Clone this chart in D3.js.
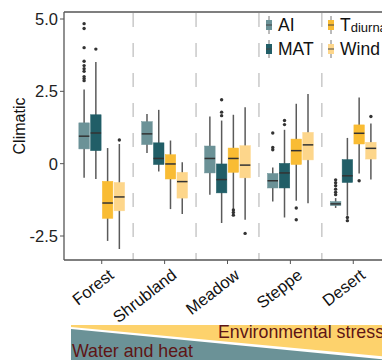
<!DOCTYPE html>
<html><head><meta charset="utf-8">
<script src="https://cdn.jsdelivr.net/npm/d3@7"></script>
<style>body{margin:0;background:#fff;}svg{display:block;font-family:Arial,"Liberation Sans",sans-serif;}</style>
</head><body>
<svg id="c" width="382" height="360"></svg>
<script>
const categories = ["Forest","Shrubland","Meadow","Steppe","Desert"];
const seriesNames = ["AI","MAT","Tdiurnal","Wind"];
const seriesColors = ["#6b9297","#215e67","#f9bc34","#fdd68b"];
const yTicks = [5.0, 2.5, 0, -2.5];
const yTickLabels = ["5.0","2.5","0","-2.5"];
// [lower whisker, q1, median, q3, upper whisker] per category
const aiStats = [[-0.49,0.51,0.95,1.41,2.56],[0.37,0.66,1.03,1.45,1.72],[-1.07,-0.32,0.18,0.61,1.63],[-1.31,-0.84,-0.59,-0.34,-0.13],[-1.53,-1.45,-1.39,-1.31,-1.19]];
const matStats = [[-0.53,0.45,1.06,1.69,3.51],[-0.27,-0.03,0.18,0.72,1.86],[-2.05,-1.01,-0.55,-0.01,1.49],[-1.86,-0.84,-0.32,0.01,1.17],[-1.80,-0.65,-0.42,0.14,0.89]];
const tdiStats = [[-2.67,-1.89,-1.36,-0.61,0.54],[-1.57,-0.53,-0.01,0.31,0.80],[-1.57,-0.30,0.18,0.54,1.69],[-1.28,-0.03,0.45,0.85,2.07],[-0.34,0.68,1.05,1.34,2.29]];
const windStats = [[-2.95,-1.63,-1.15,-0.65,0.68],[-1.74,-1.19,-0.62,-0.30,0.05],[-1.94,-0.49,-0.05,0.62,1.95],[-1.37,0.13,0.65,1.08,2.41],[-0.55,0.16,0.53,0.74,1.39]];
// outliers per category
const aiOut = [[4.84,4.67,4.01,3.54,3.39,3.28,3.19,3.01,2.94,2.87],[],[],[0.56,0.48,1.06],[-0.56,-0.66,-0.76,-0.88,-0.99,-1.07]];
const matOut = [[3.96],[],[2.21,1.78,1.66],[1.35,1.49],[-1.86,-1.97]];
const tdiOut = [[],[],[-1.60,-1.69,-1.78],[-1.53,-1.94],[-0.59]];
const windOut = [[0.82],[],[-2.41],[],[1.63]];

const stats = [aiStats, matStats, tdiStats, windStats];
const outs = [aiOut, matOut, tdiOut, windOut];

const svg = d3.select("#c");
const L = 64, R = 391, T = 12, B = 260;
const x = d3.scaleLinear().domain([-0.6, 4.6]).range([L, R]);
const y = d3.scaleLinear().domain([5, -2.5]).range([19, 236]);
const dodge = d3.scaleBand().domain(seriesNames).range([-23.5, 23.5]);
const bw = 10.5;

// separators
const seps = d3.range(0.5, 4, 1);
svg.selectAll(".sep").data(seps).join("line")
  .attr("x1", d => x(d)).attr("x2", d => x(d)).attr("y1", T + 1).attr("y2", B)
  .attr("stroke", "#c9c9c9").attr("stroke-width", 1.5).attr("stroke-dasharray", "14,16");

// boxes
seriesNames.forEach((s, si) => {
  const g = svg.append("g");
  categories.forEach((c, ci) => {
    const st = stats[si][ci];
    const cx = x(ci) + dodge(s) + dodge.bandwidth() / 2;
    g.append("line").attr("x1", cx).attr("x2", cx).attr("y1", y(st[0])).attr("y2", y(st[4]))
      .attr("stroke", "#5a5a5a").attr("stroke-width", 1.5);
    g.append("rect").attr("x", cx - bw / 2).attr("width", bw)
      .attr("y", y(st[3])).attr("height", Math.max(1, y(st[1]) - y(st[3])))
      .attr("fill", seriesColors[si]).attr("stroke", seriesColors[si]).attr("stroke-width", 0.5);
    g.append("line").attr("x1", cx - bw / 2).attr("x2", cx + bw / 2).attr("y1", y(st[2])).attr("y2", y(st[2]))
      .attr("stroke", "#333").attr("stroke-width", 1.5);
    g.selectAll(".o" + ci).data(outs[si][ci]).join("circle")
      .attr("cx", cx).attr("cy", d => y(d)).attr("r", 1.7).attr("fill", "#333");
  });
});

// panel border
svg.append("line").attr("x1", L).attr("x2", 382).attr("y1", T).attr("y2", T).attr("stroke", "#555").attr("stroke-width", 1.3);
svg.append("line").attr("x1", L).attr("x2", 382).attr("y1", B).attr("y2", B).attr("stroke", "#555").attr("stroke-width", 1.3);
svg.append("line").attr("x1", L).attr("x2", L).attr("y1", T).attr("y2", B).attr("stroke", "#555").attr("stroke-width", 1.3);

// y axis ticks
yTicks.forEach((t, i) => {
  svg.append("line").attr("x1", L - 4).attr("x2", L).attr("y1", y(t)).attr("y2", y(t)).attr("stroke", "#555");
  svg.append("text").attr("x", L - 6).attr("y", y(t)).attr("dy", "0.36em").attr("text-anchor", "end")
    .attr("font-size", 16.5).attr("fill", "#222").text(yTickLabels[i]);
});
svg.append("text").attr("transform", "translate(25,126) rotate(-90)").attr("text-anchor", "middle")
  .attr("font-size", 16).attr("fill", "#111").text("Climatic");

// x ticks
categories.forEach((c, i) => {
  svg.append("line").attr("x1", x(i)).attr("x2", x(i)).attr("y1", B).attr("y2", B + 4).attr("stroke", "#555");
  svg.append("text").attr("transform", `translate(${x(i) + 6},${B + 8}) rotate(-38)`)
    .attr("text-anchor", "end").attr("dy", "0.7em").attr("font-size", 16.5).attr("fill", "#111").text(c);
});

// legend
const legPos = [[266, 25], [266, 49], [328, 25], [328, 49]];
seriesNames.forEach((s, si) => {
  const [lx, ly] = legPos[si];
  const g = svg.append("g");
  g.append("line").attr("x1", lx + 3).attr("x2", lx + 3).attr("y1", ly - 9).attr("y2", ly + 9).attr("stroke", "#777").attr("stroke-width", 1);
  g.append("rect").attr("x", lx).attr("y", ly - 5).attr("width", 6).attr("height", 10).attr("fill", seriesColors[si]);
  g.append("line").attr("x1", lx).attr("x2", lx + 6).attr("y1", ly).attr("y2", ly).attr("stroke", "#444").attr("stroke-width", 1);
  const t = g.append("text").attr("x", lx + 12).attr("y", ly + 6).attr("font-size", 17.5).attr("fill", "#111");
  if (s === "Tdiurnal") {
    t.append("tspan").text("T");
    t.append("tspan").attr("font-size", 13).attr("dy", 1).text("diurnal");
  } else t.text(s);
});

// bottom gradient triangles
const yellow = [[71, 325], [390, 325], [390, 357], [71, 327]];
const teal = [[71, 329], [390, 360], [390, 370], [71, 370]];
svg.append("path").attr("d", d3.line()(yellow) + "Z").attr("fill", "#fdd26c");
svg.append("path").attr("d", d3.line()(teal) + "Z").attr("fill", "#6b9297");
svg.append("text").attr("x", 218).attr("y", 338).attr("font-size", 17.8).attr("fill", "#5e1515").text("Environmental stress");
svg.append("text").attr("x", 72).attr("y", 357).attr("font-size", 17.8).attr("fill", "#5e1515").text("Water and heat");
</script>
</body></html>
